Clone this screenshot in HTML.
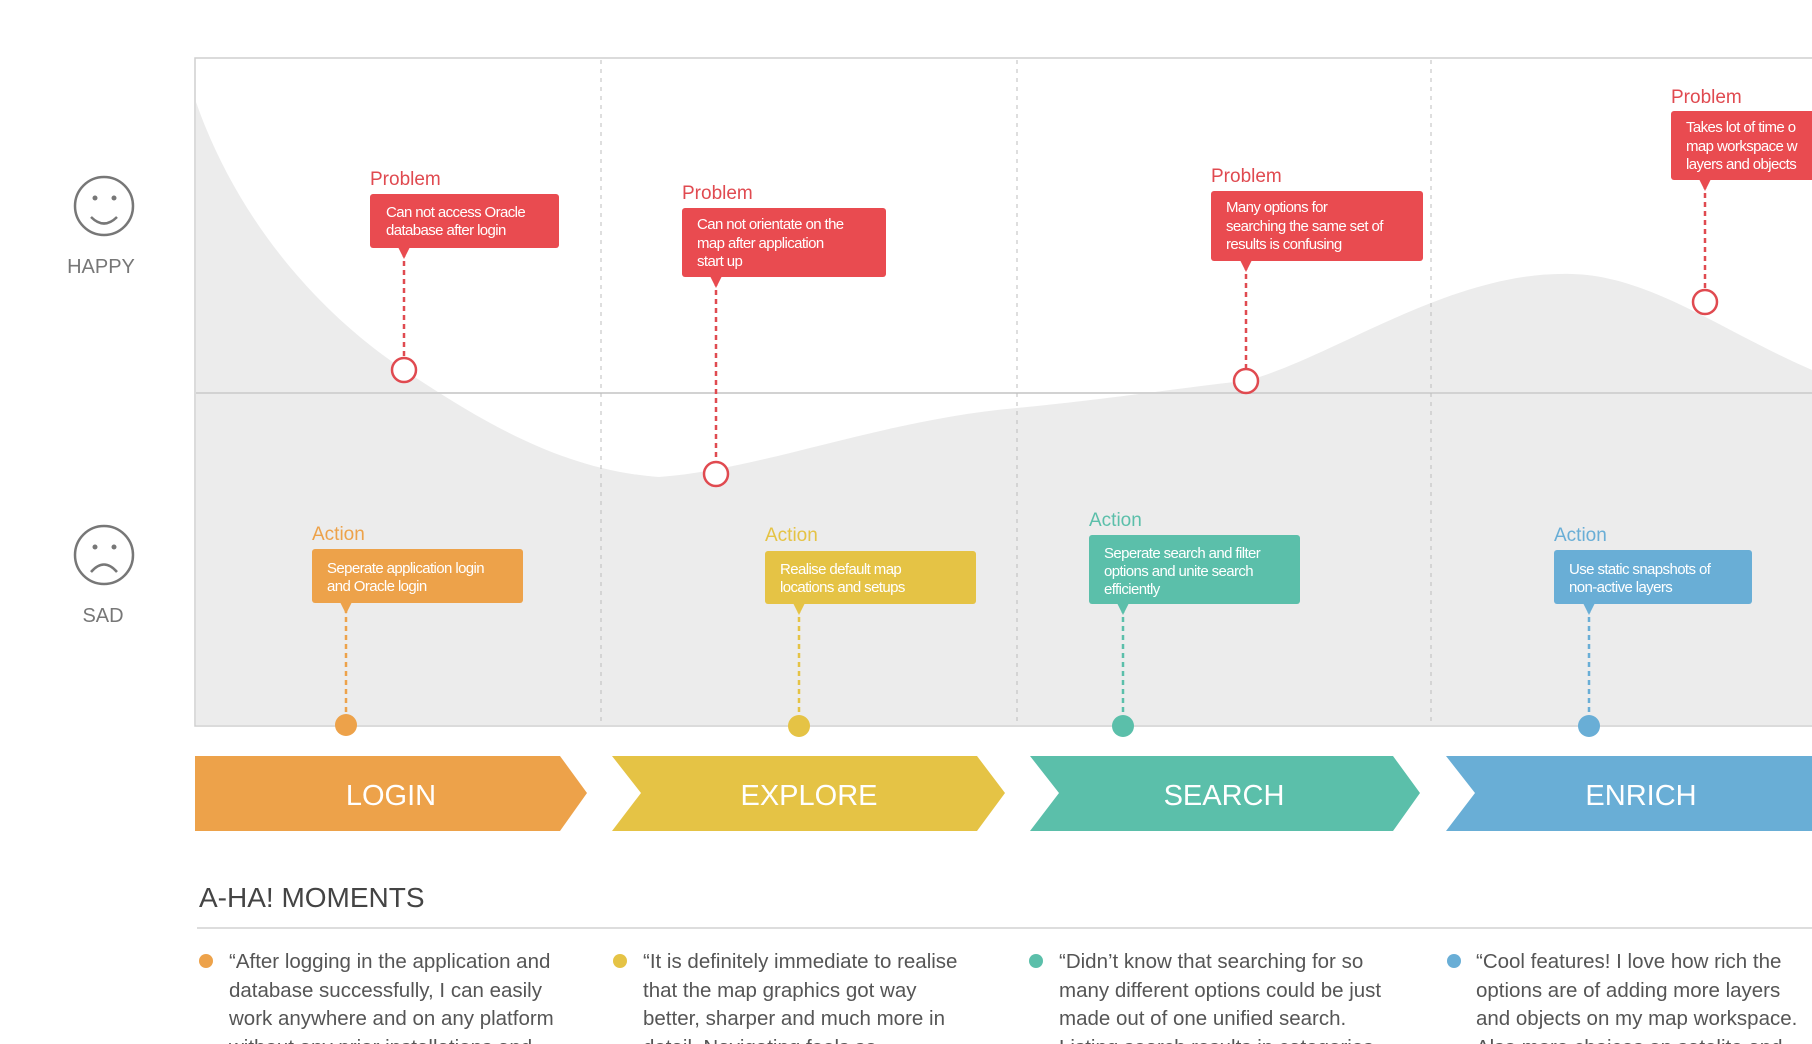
<!DOCTYPE html>
<html><head><meta charset="utf-8"><style>
html,body{margin:0;padding:0;background:#fff;width:1812px;height:1044px;overflow:hidden}
svg{display:block}
text{font-family:"Liberation Sans",sans-serif}
.pl{fill:#e04a50;font-size:19px}
.bt{fill:#fff;font-size:15px;letter-spacing:-0.6px}
.q{fill:#555;font-size:20.5px}
</style></head><body>
<svg width="1812" height="1044" viewBox="0 0 1812 1044" xmlns="http://www.w3.org/2000/svg">
<!-- chart box -->
<rect x="195" y="58" width="1640" height="668" fill="#fff" stroke="#cfcfcf" stroke-width="1.5"/>
<path d="M196,102 C230,200 300,300 404,370 C480,420 560,470 659,477 C760,470 880,420 1017,408 C1120,398 1200,385 1245,381 C1330,360 1450,270 1572,274 C1650,276 1720,330 1812,370 L1812,725 L196,725 Z" fill="#ececec"/>
<line x1="196" y1="393" x2="1812" y2="393" stroke="#d2d2d2" stroke-width="2"/>
<g stroke="#bdbdbd" stroke-width="1" stroke-dasharray="4,5">
<line x1="601" y1="60" x2="601" y2="724"/><line x1="1017" y1="60" x2="1017" y2="724"/><line x1="1431" y1="60" x2="1431" y2="724"/>
</g>
<!-- faces -->
<g fill="none" stroke="#777" stroke-width="2.5">
<circle cx="104" cy="206" r="29"/><path d="M91,217 Q104,230 117,217"/>
<circle cx="104" cy="555" r="29"/><path d="M91,572 Q104,557 117,572"/>
</g>
<g fill="#777"><circle cx="95" cy="198" r="2.5"/><circle cx="114" cy="198" r="2.5"/><circle cx="95" cy="547" r="2.5"/><circle cx="114" cy="547" r="2.5"/></g>
<text x="101" y="273" text-anchor="middle" fill="#777" font-size="20">HAPPY</text>
<text x="103" y="622" text-anchor="middle" fill="#777" font-size="20">SAD</text>
<!-- problems -->
<g stroke="#e04a50" stroke-width="2.5" stroke-dasharray="5,4" fill="none">
<line x1="404" y1="252" x2="404" y2="357"/><line x1="716" y1="281" x2="716" y2="461"/><line x1="1246" y1="265" x2="1246" y2="368"/><line x1="1705" y1="184" x2="1705" y2="289"/>
</g>
<g fill="#fff" stroke="#e04a50" stroke-width="2.5">
<circle cx="404" cy="370" r="12"/><circle cx="716" cy="474" r="12"/><circle cx="1246" cy="381" r="12"/><circle cx="1705" cy="302" r="12"/>
</g>
<g fill="#e94b50">
<rect x="370" y="194" width="189" height="54" rx="3"/><path d="M398,247 L410,247 L404,259 Z"/>
<rect x="682" y="208" width="204" height="69" rx="3"/><path d="M710,276 L722,276 L716,288 Z"/>
<rect x="1211" y="191" width="212" height="70" rx="3"/><path d="M1240,260 L1252,260 L1246,272 Z"/>
<rect x="1671" y="111" width="160" height="69" rx="3"/><path d="M1699,179 L1711,179 L1705,191 Z"/>
</g>
<text class="pl" x="370" y="185">Problem</text>
<text class="pl" x="682" y="199">Problem</text>
<text class="pl" x="1211" y="182">Problem</text>
<text class="pl" x="1671" y="103">Problem</text>
<text class="bt" x="386" y="217">Can not access Oracle</text><text class="bt" x="386" y="235">database after login</text>
<text class="bt" x="697" y="229">Can not orientate on the</text><text class="bt" x="697" y="248">map after application</text><text class="bt" x="697" y="266">start up</text>
<text class="bt" x="1226" y="212">Many options for</text><text class="bt" x="1226" y="231">searching the same set of</text><text class="bt" x="1226" y="249">results is confusing</text>
<text class="bt" x="1686" y="132">Takes lot of time o</text><text class="bt" x="1686" y="151">map workspace w</text><text class="bt" x="1686" y="169">layers and objects</text>
<!-- actions -->
<g stroke-width="2.5" stroke-dasharray="5,4" fill="none">
<line x1="346" y1="608" x2="346" y2="716" stroke="#eda24a"/>
<line x1="799" y1="608" x2="799" y2="716" stroke="#e5c345"/>
<line x1="1123" y1="608" x2="1123" y2="716" stroke="#5bbfaa"/>
<line x1="1589" y1="608" x2="1589" y2="716" stroke="#69aed6"/>
</g>
<circle cx="346" cy="725" r="11" fill="#eda24a"/><circle cx="799" cy="726" r="11" fill="#e5c345"/>
<circle cx="1123" cy="726" r="11" fill="#5bbfaa"/><circle cx="1589" cy="726" r="11" fill="#69aed6"/>
<rect x="312" y="549" width="211" height="54" rx="3" fill="#eda24a"/><path d="M340,602 L352,602 L346,614 Z" fill="#eda24a"/>
<rect x="765" y="551" width="211" height="53" rx="3" fill="#e5c345"/><path d="M793,603 L805,603 L799,615 Z" fill="#e5c345"/>
<rect x="1089" y="535" width="211" height="69" rx="3" fill="#5bbfaa"/><path d="M1117,603 L1129,603 L1123,615 Z" fill="#5bbfaa"/>
<rect x="1554" y="550" width="198" height="54" rx="3" fill="#69aed6"/><path d="M1583,603 L1595,603 L1589,615 Z" fill="#69aed6"/>
<text x="312" y="540" fill="#eda24a" font-size="19">Action</text>
<text x="765" y="541" fill="#e5c345" font-size="19">Action</text>
<text x="1089" y="526" fill="#5bbfaa" font-size="19">Action</text>
<text x="1554" y="541" fill="#69aed6" font-size="19">Action</text>
<text class="bt" x="327" y="573">Seperate application login</text><text class="bt" x="327" y="591">and Oracle login</text>
<text class="bt" x="780" y="574">Realise default map</text><text class="bt" x="780" y="592">locations and setups</text>
<text class="bt" x="1104" y="558">Seperate search and filter</text><text class="bt" x="1104" y="576">options and unite search</text><text class="bt" x="1104" y="594">efficiently</text>
<text class="bt" x="1569" y="574">Use static snapshots of</text><text class="bt" x="1569" y="592">non-active layers</text>
<!-- chevrons -->
<path d="M195,756 L560,756 L587,793 L560,831 L195,831 Z" fill="#eda24a"/>
<path d="M612,756 L977,756 L1005,793 L977,831 L612,831 L641,793 Z" fill="#e5c345"/>
<path d="M1030,756 L1393,756 L1420,793 L1393,831 L1030,831 L1059,793 Z" fill="#5bbfaa"/>
<path d="M1446,756 L1812,756 L1812,831 L1446,831 L1475,793 Z" fill="#69aed6"/>
<g fill="#fff" font-size="29" text-anchor="middle">
<text x="391" y="805">LOGIN</text><text x="809" y="805">EXPLORE</text><text x="1224" y="805">SEARCH</text><text x="1641" y="805">ENRICH</text>
</g>
<!-- A-HA -->
<text x="199" y="907" fill="#444" font-size="28">A-HA! MOMENTS</text>
<line x1="197" y1="928" x2="1812" y2="928" stroke="#ddd" stroke-width="2"/>
<circle cx="206" cy="961" r="7" fill="#eda24a"/><circle cx="620" cy="961" r="7" fill="#e5c345"/>
<circle cx="1036" cy="961" r="7" fill="#5bbfaa"/><circle cx="1454" cy="961" r="7" fill="#69aed6"/>
<g class="q">
<text class="q" x="229" y="968">“After logging in the application and</text>
<text class="q" x="229" y="997">database successfully, I can easily</text>
<text class="q" x="229" y="1025">work anywhere and on any platform</text>
<text class="q" x="229" y="1054">without any prior installations and</text>
<text class="q" x="643" y="968">“It is definitely immediate to realise</text>
<text class="q" x="643" y="997">that the map graphics got way</text>
<text class="q" x="643" y="1025">better, sharper and much more in</text>
<text class="q" x="643" y="1054">detail. Navigating feels so</text>
<text class="q" x="1059" y="968">“Didn’t know that searching for so</text>
<text class="q" x="1059" y="997">many different options could be just</text>
<text class="q" x="1059" y="1025">made out of one unified search.</text>
<text class="q" x="1059" y="1054">Listing search results in categories</text>
<text class="q" x="1476" y="968">“Cool features! I love how rich the</text>
<text class="q" x="1476" y="997">options are of adding more layers</text>
<text class="q" x="1476" y="1025">and objects on my map workspace.</text>
<text class="q" x="1476" y="1054">Also more choices on satelite and</text>
</g>
</svg>
</body></html>
